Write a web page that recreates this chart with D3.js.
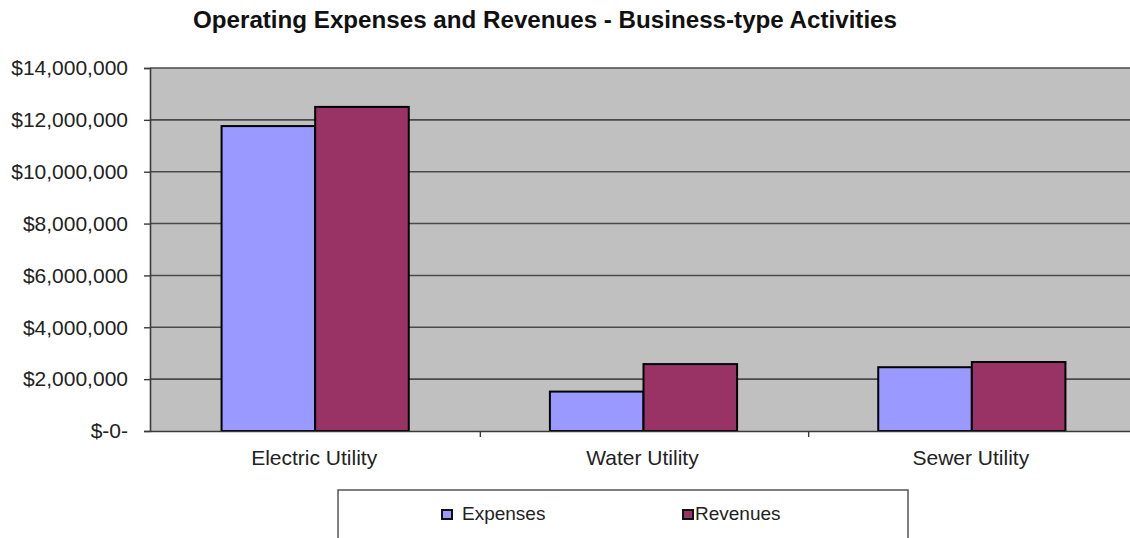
<!DOCTYPE html>
<html>
<head>
<meta charset="utf-8">
<script src="https://cdn.jsdelivr.net/npm/d3@7"></script>
<style>
  html, body { margin: 0; padding: 0; background: #fff; }
  svg { display: block; font-family: "Liberation Sans", Arial, sans-serif; }
</style>
</head>
<body>
<div id="chart"></div>
<script>
// Datos del gráfico
const categories = ['Electric Utility', 'Water Utility', 'Sewer Utility'];
const seriesNames = ['Expenses', 'Revenues'];
const expenses = [11760000, 1520000, 2460000];
const revenues = [12500000, 2580000, 2660000];
const yTicks = [0, 2000000, 4000000, 6000000, 8000000, 10000000, 12000000, 14000000];
const colors = ['#9999ff', '#993366'];

const width = 1130, height = 538;
const margin = { top: 68, right: -5, bottom: 107, left: 150 };
const plotW = width - margin.left - margin.right;
const plotH = height - margin.top - margin.bottom;

const svg = d3.select('#chart')
  .append('svg')
  .attr('width', width)
  .attr('height', height);

// Título
svg.append('text')
  .attr('x', 193)
  .attr('y', 28)
  .attr('font-size', 23)
  .attr('font-weight', 700)
  .attr('fill', '#111')
  .attr('textLength', 704)
  .attr('lengthAdjust', 'spacingAndGlyphs')
  .text('Operating Expenses and Revenues - Business-type Activities');

const g = svg.append('g').attr('transform', `translate(${margin.left},${margin.top})`);

// Escalas
const x0 = d3.scaleBand().domain(categories).range([0, plotW]).paddingInner(0).paddingOuter(0);
const x1 = d3.scaleBand().domain(seriesNames).range([0, x0.bandwidth()]).paddingInner(0).paddingOuter(0.754);
const y = d3.scaleLinear().domain([0, 14000000]).range([plotH, 0]);

// Fondo del área de trazado
g.append('rect')
  .attr('x', 0).attr('y', 0)
  .attr('width', plotW).attr('height', plotH)
  .attr('fill', '#c0c0c0');

// Líneas de cuadrícula
g.selectAll('.grid')
  .data(yTicks.filter(d => d > 0))
  .enter().append('line')
  .attr('x1', 0).attr('x2', plotW)
  .attr('y1', d => y(d)).attr('y2', d => y(d))
  .attr('stroke', '#4a4a4a')
  .attr('stroke-width', 1.6);

// Barras
const rows = categories.map((c, i) => ({ cat: c, values: [expenses[i], revenues[i]] }));
const groups = g.selectAll('.grp')
  .data(rows)
  .enter().append('g')
  .attr('transform', d => `translate(${x0(d.cat) + 1},0)`);

groups.selectAll('rect')
  .data(d => d.values.map((v, j) => ({ key: seriesNames[j], v, j })))
  .enter().append('rect')
  .attr('x', d => x1(d.key))
  .attr('y', d => y(d.v))
  .attr('width', x1.bandwidth())
  .attr('height', d => plotH - y(d.v))
  .attr('fill', d => colors[d.j])
  .attr('stroke', '#000')
  .attr('stroke-width', 2);

// Eje Y
const fmt = d => d === 0 ? '$-0-' : '$' + d3.format(',')(d);
const yAxis = g.append('g')
  .call(d3.axisLeft(y).tickValues(yTicks).tickFormat(fmt).tickSize(6).tickPadding(16));
yAxis.select('.domain').attr('stroke', '#3a3a3a').attr('stroke-width', 1.6);
yAxis.selectAll('.tick line').attr('stroke', '#3a3a3a').attr('stroke-width', 1.4);
yAxis.selectAll('text')
  .attr('font-size', 21)
  .attr('font-family', '"Liberation Sans", Arial, sans-serif')
  .attr('fill', '#222');

// Eje X
const xAxis = g.append('g')
  .attr('transform', `translate(0,${plotH})`)
  .call(d3.axisBottom(x0).tickSize(0).tickPadding(19));
xAxis.select('.domain').attr('stroke', '#3a3a3a').attr('stroke-width', 1.6);
xAxis.selectAll('text')
  .attr('font-size', 21)
  .attr('font-family', '"Liberation Sans", Arial, sans-serif')
  .attr('fill', '#222');

// Marcas entre categorías
g.selectAll('.sep')
  .data(categories.slice(1))
  .enter().append('line')
  .attr('x1', d => x0(d) + 2).attr('x2', d => x0(d) + 2)
  .attr('y1', plotH).attr('y2', plotH + 6)
  .attr('stroke', '#3a3a3a')
  .attr('stroke-width', 1.4);

// Leyenda
const legend = svg.append('g');
legend.append('rect')
  .attr('x', 338).attr('y', 490)
  .attr('width', 570).attr('height', 60)
  .attr('fill', '#fff')
  .attr('stroke', '#555')
  .attr('stroke-width', 1.5);

const legendX = [442, 683];
seriesNames.forEach((name, i) => {
  legend.append('rect')
    .attr('x', legendX[i]).attr('y', 510)
    .attr('width', 10).attr('height', 9)
    .attr('fill', colors[i])
    .attr('stroke', '#111')
    .attr('stroke-width', 2);
  legend.append('text')
    .attr('x', legendX[i] + (i === 0 ? 20 : 12))
    .attr('y', 520)
    .attr('font-size', 19)
    .attr('fill', '#222')
    .text(name);
});
</script>
</body>
</html>
